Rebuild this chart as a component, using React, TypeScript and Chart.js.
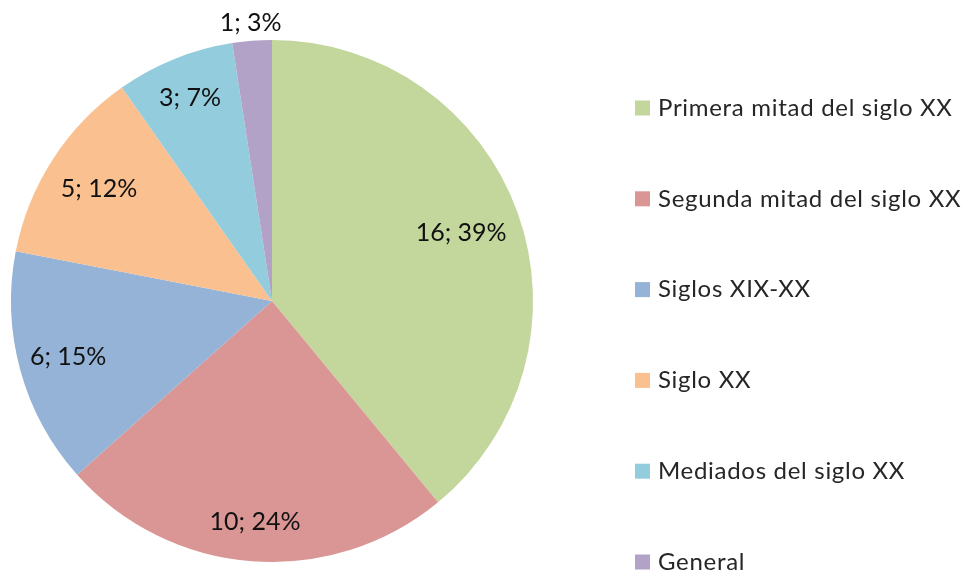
import React, { useEffect, useRef } from "react";
import { Chart, registerables } from "chart.js";

Chart.register(...registerables);

const categories = [
  "Primera mitad del siglo XX",
  "Segunda mitad del siglo XX",
  "Siglos XIX-XX",
  "Siglo XX",
  "Mediados del siglo XX",
  "General",
];
const counts = [16, 10, 6, 5, 3, 1];
const percentLabels = ["39%", "24%", "15%", "12%", "7%", "3%"];
const colors = ["#C3D69B", "#D99694", "#95B3D7", "#FAC090", "#93CDDD", "#B3A2C7"];

const labelRadiusFractions = [0.77, 0.85, 0.81, 0.79, 0.84, 1.07];

const FONT = "Lato, 'Open Sans', sans-serif";

const customPlugin = {
  id: "customLabels",
  afterDraw(chart: any) {
    const ctx = chart.ctx;
    const meta = chart.getDatasetMeta(0);
    ctx.save();
    // data labels
    ctx.font = `25px ${FONT}`;
    ctx.fillStyle = "#111111";
    ctx.textAlign = "center";
    ctx.textBaseline = "middle";
    meta.data.forEach((arc: any, i: number) => {
      const p = arc.getProps(["x", "y", "startAngle", "endAngle", "outerRadius"], true);
      const mid = (p.startAngle + p.endAngle) / 2;
      const r = p.outerRadius * labelRadiusFractions[i];
      const tx = p.x + Math.cos(mid) * r;
      const ty = p.y + Math.sin(mid) * r;
      ctx.fillText(`${counts[i]}; ${percentLabels[i]}`, tx, ty);
    });
    // legend
    const lx = 635;
    const top = 108;
    const step = 90.8;
    ctx.textAlign = "left";
    ctx.font = `24px ${FONT}`;
    (ctx as any).letterSpacing = "0.7px";
    categories.forEach((c, i) => {
      const cy = top + i * step;
      ctx.fillStyle = colors[i];
      ctx.fillRect(lx, cy - 7.5, 15, 15);
      ctx.fillStyle = "#262626";
      ctx.fillText(c, 658, cy);
    });
    ctx.restore();
  },
};

export default function App() {
  const ref = useRef<HTMLCanvasElement>(null);
  useEffect(() => {
    if (!ref.current) return;
    const chart = new Chart(ref.current, {
      type: "pie",
      data: {
        labels: categories,
        datasets: [
          {
            data: counts,
            backgroundColor: colors,
            borderWidth: 0,
          },
        ],
      },
      options: {
        responsive: false,
        animation: false,
        layout: { padding: { left: 11, top: 40, right: 438, bottom: 16 } },
        plugins: {
          legend: { display: false },
          tooltip: { enabled: false },
        },
      },
      plugins: [customPlugin],
    });
    return () => chart.destroy();
  }, []);
  return (
    <div style={{ position: "absolute", left: 0, top: 0, width: 971, height: 578, background: "#fff" }}>
      <canvas ref={ref} width={971} height={578} style={{ width: 971, height: 578 }} />
    </div>
  );
}
